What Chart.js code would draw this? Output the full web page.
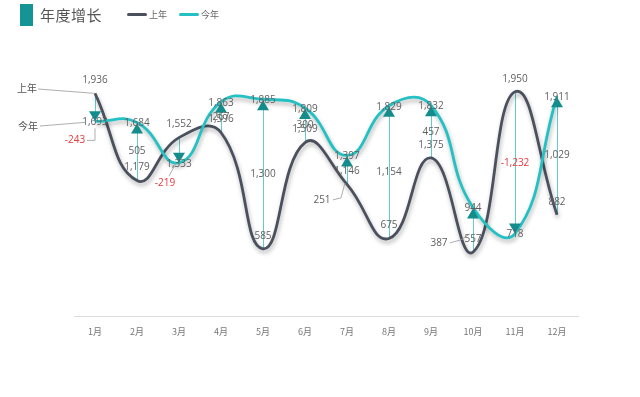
<!DOCTYPE html>
<html>
<head>
<meta charset="utf-8">
<script src="https://cdn.jsdelivr.net/npm/chart.js@4.4.0/dist/chart.umd.min.js"></script>
<style>
  html, body { margin: 0; padding: 0; background: #fff; }
  #wrap { position: relative; width: 640px; height: 397px; font-family: "Noto Sans CJK SC", "Noto Sans", sans-serif; }
  canvas { position: absolute; left: 0; top: 0; }
  .title-box { position: absolute; left: 20px; top: 4px; width: 13px; height: 22px; background: #149494; }
  .title { position: absolute; left: 40px; top: 4px; font-size: 15px; line-height: 22px; color: #555; letter-spacing: 0.5px; }
  .leg { position: absolute; top: 9px; font-size: 9px; line-height: 12px; color: #666; }
  .leg i { display: inline-block; width: 20px; height: 3px; border-radius: 2px; vertical-align: middle; margin-right: 2px; margin-top: -2px; }
  .side { position: absolute; font-size: 10px; color: #555; line-height: 12px; }
</style>
</head>
<body>
<div id="wrap">
  <canvas id="c" width="640" height="397"></canvas>
  <div class="title-box"></div>
  <div class="title">年度增长</div>
  <div class="leg" style="left:127px"><i style="background:#4b505e"></i>上年</div>
  <div class="leg" style="left:179px"><i style="background:#23c1c4"></i>今年</div>
  <div class="side" style="left:17px;top:82px">上年</div>
  <div class="side" style="left:18px;top:120px">今年</div>
</div>
<script>
const months = ['1月', '2月', '3月', '4月', '5月', '6月', '7月', '8月', '9月', '10月', '11月', '12月'];
const lastYear = [1936, 1179, 1552, 1596, 585, 1509, 1146, 675, 1375, 557, 1950, 882];
const thisYear = [1693, 1684, 1333, 1863, 1885, 1809, 1397, 1829, 1832, 944, 718, 1911];
const growth = [-243, 505, -219, 267, 1300, 300, 251, 1154, 457, 387, -1232, 1029];

// labels that sit away from the arrow, with a little leader line
const moved = {
  0: { dx: -20, dy: 33, leader: [[-8, 33], [0, 33], [0, 21]] },
  2: { dx: -14, dy: 33, leader: [[-10, 26], [-3, 13]] },
  6: { dx: -25, dy: 30, leader: [[-14, 30], [-6, 28], [-2, 13]] },
  9: { dx: -34, dy: 13, leader: [[-23, 13], [-12, 10], [-3, 4]] }
};

const fmt = v => v.toLocaleString('en-US');
const labelFont = '10px "Open Sans", "DejaVu Sans", sans-serif';

const shadowPlugin = {
  id: 'shadow',
  beforeDatasetDraw(chart) {
    const c = chart.ctx;
    c.save();
    c.shadowColor = 'rgba(0,0,0,0.3)';
    c.shadowBlur = 4;
    c.shadowOffsetX = 1;
    c.shadowOffsetY = 3;
  },
  afterDatasetDraw(chart) {
    chart.ctx.restore();
  }
};

const arrowPlugin = {
  id: 'arrows',
  beforeDatasetsDraw(chart) {
    const ctx = chart.ctx, xs = chart.scales.x, ys = chart.scales.y;
    ctx.save();
    ctx.strokeStyle = '#62cccc';
    ctx.lineWidth = 1;
    months.forEach((m, i) => {
      const x = Math.round(xs.getPixelForValue(i)) + 0.5;
      ctx.beginPath();
      ctx.moveTo(x, ys.getPixelForValue(lastYear[i]));
      ctx.lineTo(x, ys.getPixelForValue(thisYear[i]));
      ctx.stroke();
    });
    ctx.restore();
  },
  afterDatasetsDraw(chart) {
    const ctx = chart.ctx, xs = chart.scales.x, ys = chart.scales.y;
    ctx.save();
    // side legend leaders
    ctx.strokeStyle = '#999';
    ctx.lineWidth = 0.8;
    const x0 = xs.getPixelForValue(0);
    ctx.beginPath();
    ctx.moveTo(38, 89);
    ctx.lineTo(x0, ys.getPixelForValue(lastYear[0]));
    ctx.moveTo(40, 126);
    ctx.lineTo(x0 - 10, ys.getPixelForValue(thisYear[0]) + 1);
    ctx.stroke();

    months.forEach((m, i) => {
      const x = xs.getPixelForValue(i);
      const yT = ys.getPixelForValue(thisYear[i]);
      const up = growth[i] >= 0;
      // arrow head
      ctx.fillStyle = '#148c8c';
      ctx.beginPath();
      if (up) {
        ctx.moveTo(x, yT + 1);
        ctx.lineTo(x - 6, yT + 11);
        ctx.lineTo(x + 6, yT + 11);
      } else {
        ctx.moveTo(x, yT);
        ctx.lineTo(x - 6, yT - 10);
        ctx.lineTo(x + 6, yT - 10);
      }
      ctx.closePath();
      ctx.fill();
    });

    ctx.font = labelFont;
    ctx.textAlign = 'center';
    ctx.textBaseline = 'middle';
    months.forEach((m, i) => {
      const x = xs.getPixelForValue(i);
      const yL = ys.getPixelForValue(lastYear[i]);
      const yT = ys.getPixelForValue(thisYear[i]);
      const mid = (yL + yT) / 2;
      ctx.fillStyle = '#606060';
      ctx.fillText(fmt(lastYear[i]), x, yL - 13);
      ctx.fillText(fmt(thisYear[i]), x, yT + 1);
      const mv = moved[i];
      ctx.fillStyle = growth[i] < 0 ? '#e8383d' : '#606060';
      if (mv) {
        ctx.fillText(fmt(growth[i]), x + mv.dx, mid + mv.dy);
        ctx.strokeStyle = '#999';
        ctx.lineWidth = 0.8;
        ctx.beginPath();
        mv.leader.forEach((p, k) => {
          if (k === 0) ctx.moveTo(x + p[0], mid + p[1]);
          else ctx.lineTo(x + p[0], mid + p[1]);
        });
        ctx.stroke();
      } else {
        ctx.fillText(fmt(growth[i]), x, mid);
      }
    });
    ctx.restore();
  }
};

new Chart(document.getElementById('c'), {
  type: 'line',
  data: {
    labels: months,
    datasets: [
      {
        label: '今年',
        data: thisYear,
        borderColor: '#23c1c4',
        borderWidth: 2.8,
        tension: 0.47,
        pointRadius: 0,
        order: 0,
        clip: false
      },
      {
        label: '上年',
        data: lastYear,
        borderColor: '#4b505e',
        borderWidth: 2.8,
        tension: 0.47,
        pointRadius: 0,
        order: 1,
        clip: false
      }
    ]
  },
  options: {
    responsive: false,
    animation: false,
    devicePixelRatio: 1,
    layout: { padding: { left: 74, right: 62, top: 40, bottom: 50 } },
    plugins: { legend: { display: false }, tooltip: { enabled: false } },
    scales: {
      x: {
        offset: true,
        grid: { display: false, drawTicks: false },
        border: { color: '#dddddd' },
        ticks: { color: '#777', font: { size: 9, family: '"Noto Sans CJK SC", sans-serif' }, padding: 10 }
      },
      y: { display: false, min: 0, max: 2400 }
    }
  },
  plugins: [shadowPlugin, arrowPlugin]
});
</script>
</body>
</html>
